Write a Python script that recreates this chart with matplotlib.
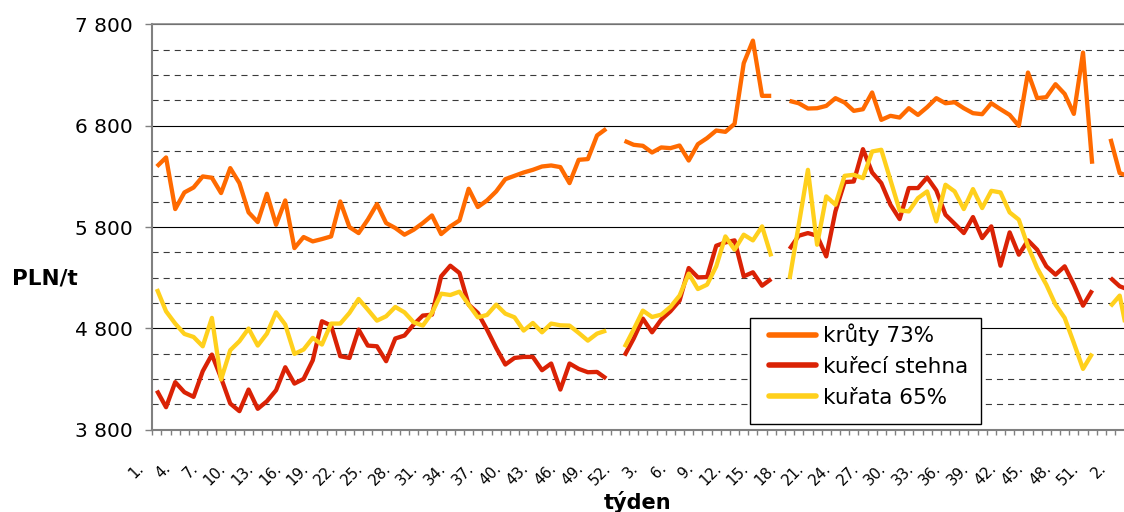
import numpy as np
import matplotlib
matplotlib.use("Agg")
import matplotlib.pyplot as plt
from matplotlib.ticker import FixedLocator, FuncFormatter
from matplotlib.transforms import ScaledTranslation
from matplotlib.patches import Rectangle

plt.rcParams['font.family'] = ['DejaVu Sans']

nan = np.nan

# categories: weeks of three consecutive years
weeks = list(range(1, 53)) + list(range(1, 53)) + [1, 2, 3]
week_labels = [f"{w}." for w in weeks]

# y axis ticks
y_major = [3800, 4800, 5800, 6800, 7800]

# krůty 73%
krute = [6397, 6486, 5977, 6141, 6190, 6299, 6286, 6135, 6381, 6233,
         5944, 5849, 6128, 5822, 6062, 5592, 5701, 5658, 5681, 5707,
         6052, 5799, 5740, 5872, 6026, 5839, 5790, 5724, 5773, 5839,
         5914, 5730, 5806, 5865, 6177, 5997, 6062, 6151, 6272, 6305,
         6338, 6364, 6397, 6407, 6391, 6233, 6463, 6470, 6703, 6769,
         nan, 6650, 6611, 6601, 6535, 6585, 6578, 6604, 6456, 6617,
         6677, 6752, 6739, 6818, 7416, 7639, 7094, 7094, nan, 7044,
         7021, 6969, 6972, 6995, 7071, 7028, 6946, 6962, 7127, 6857,
         6897, 6880, 6972, 6906, 6982, 7071, 7021, 7031, 6972, 6923,
         6913, 7021, 6962, 6906, 6798, 7324, 7071, 7081, 7209, 7113,
         6916, 7521, 6424, nan, 6670, 6332, 6300]

# kuřecí stehna
stehna = [4186, 4022, 4269, 4170, 4124, 4377, 4541, 4311, 4058, 3983,
          4196, 4006, 4081, 4190, 4416, 4255, 4301, 4485, 4870, 4827,
          4525, 4508, 4788, 4630, 4623, 4476, 4700, 4729, 4837, 4926,
          4935, 5313, 5418, 5346, 5034, 4952, 4788, 4607, 4443, 4508,
          4518, 4518, 4387, 4453, 4196, 4453, 4400, 4367, 4370, 4305,
          nan, 4531, 4700, 4896, 4761, 4886, 4968, 5073, 5395, 5303,
          5306, 5615, 5648, 5668, 5313, 5353, 5221, 5287, nan, 5583,
          5714, 5740, 5714, 5510, 5954, 6243, 6249, 6568, 6338, 6233,
          6020, 5878, 6184, 6184, 6289, 6161, 5921, 5832, 5740, 5898,
          5691, 5806, 5418, 5747, 5527, 5668, 5576, 5412, 5330, 5412,
          5231, 5024, 5175, nan, 5297, 5215, 5180]

# kuřata 65%
kurata = [5188, 4968, 4847, 4745, 4715, 4623, 4903, 4295, 4584, 4673,
          4798, 4630, 4748, 4958, 4837, 4548, 4591, 4706, 4640, 4847,
          4847, 4952, 5090, 4985, 4876, 4919, 5011, 4958, 4860, 4827,
          4952, 5142, 5129, 5162, 5034, 4909, 4932, 5034, 4945, 4909,
          4778, 4853, 4761, 4847, 4830, 4827, 4755, 4679, 4748, 4778,
          nan, 4614, 4790, 4975, 4912, 4935, 5011, 5123, 5340, 5188,
          5231, 5412, 5707, 5576, 5724, 5668, 5806, 5510, nan, 5287,
          5822, 6364, 5625, 6102, 6020, 6305, 6315, 6282, 6545, 6562,
          6263, 5964, 5954, 6085, 6151, 5855, 6217, 6151, 5977, 6174,
          5987, 6157, 6141, 5944, 5872, 5609, 5395, 5231, 5034, 4903,
          4656, 4400, 4551, nan, 5018, 5123, 4670]

series_names = ["krůty 73%", "kuřecí stehna", "kuřata 65%"]
series_colors = ["#FF6A00", "#DA2205", "#FFD01C"]

W, H = 1124, 512
fig = plt.figure(figsize=(W / 100, H / 100), dpi=100)
left_px, right_px, top_px, bottom_px = 152.3, 1124, 24.3, 429.7
ax = fig.add_axes([left_px / W, (H - bottom_px) / H,
                   (right_px - left_px) / W, (bottom_px - top_px) / H])

x = np.arange(len(weeks))
for vals, name, col in zip([krute, stehna, kurata], series_names, series_colors):
    ax.plot(x, np.array(vals, dtype=float), color=col, lw=3.1, label=name,
            solid_joinstyle='round', solid_capstyle='butt', zorder=3)

ax.set_xlim(-0.5, 105.47)
ax.set_ylim(y_major[0], y_major[-1])

# y axis
ax.yaxis.set_major_locator(FixedLocator(y_major))
ax.yaxis.set_minor_locator(FixedLocator(np.arange(y_major[0], y_major[-1] + 1, 250)))
ax.yaxis.set_major_formatter(FuncFormatter(lambda v, p: f"{int(round(v)):,}".replace(",", " ")))
ax.tick_params(axis='y', which='major', length=5, width=1, color='#808080',
               labelsize=14.5, pad=9)
ax.tick_params(axis='y', which='minor', length=0)
ax.grid(which='major', axis='y', color='black', lw=0.8, zorder=1)
ax.grid(which='minor', axis='y', color='#3a3a3a', lw=0.8, linestyle=(0, (5.5, 4.5)), zorder=1)
ax.set_axisbelow(True)

# x axis
lab_pos = x[::3]
ax.xaxis.set_major_locator(FixedLocator(lab_pos))
ax.set_xticklabels([week_labels[i] for i in lab_pos])
ax.xaxis.set_minor_locator(FixedLocator(np.arange(-0.5, len(weeks) + 0.5, 1.0)))
ax.tick_params(axis='x', which='major', length=0, pad=26, labelsize=10.8)
ax.tick_params(axis='x', which='minor', length=3.6, width=1, color='#808080')
offset = ScaledTranslation(-16 / 100, 0, fig.dpi_scale_trans)
for lab in ax.get_xticklabels():
    lab.set_rotation(45)
    lab.set_ha('right')
    lab.set_va('center')
    lab.set_rotation_mode('anchor')
    lab.set_transform(lab.get_transform() + offset)

for s in ['left', 'bottom']:
    ax.spines[s].set_color('#808080')
    ax.spines[s].set_linewidth(1.5)
ax.spines['top'].set_color('#8a8a8a')
ax.spines['top'].set_linewidth(1.2)
ax.spines['right'].set_visible(False)

ax.set_ylabel('PLN/t', rotation=0, fontsize=15.5, fontweight='bold', ha='center', va='center')
ax.yaxis.set_label_coords((45 - left_px) / (right_px - left_px),
                          (bottom_px - 279) / (bottom_px - top_px))

fig.text(638 / W, 3 / H, 'týden', ha='center', va='baseline', fontsize=15, fontweight='bold')

# legend box (frame drawn separately for exact placement)
frame = Rectangle((750 / W, 1 - 424 / H), (981 - 750) / W, (424 - 318) / H,
                  transform=fig.transFigure, facecolor='white', edgecolor='black',
                  lw=1.0, zorder=4.5, clip_on=False)
ax.add_patch(frame)
leg = ax.legend(loc='upper left', bbox_to_anchor=(769 / W, 1 - 323.5 / H),
                bbox_transform=fig.transFigure, fontsize=15.5, frameon=False,
                handlelength=2.2, handletextpad=0.3, borderaxespad=0,
                borderpad=0, labelspacing=0.5)
leg.set_zorder(5)
for line in leg.get_lines():
    line.set_linewidth(4)
    line.set_solid_capstyle('round')

fig.savefig('out.png', dpi=100)
